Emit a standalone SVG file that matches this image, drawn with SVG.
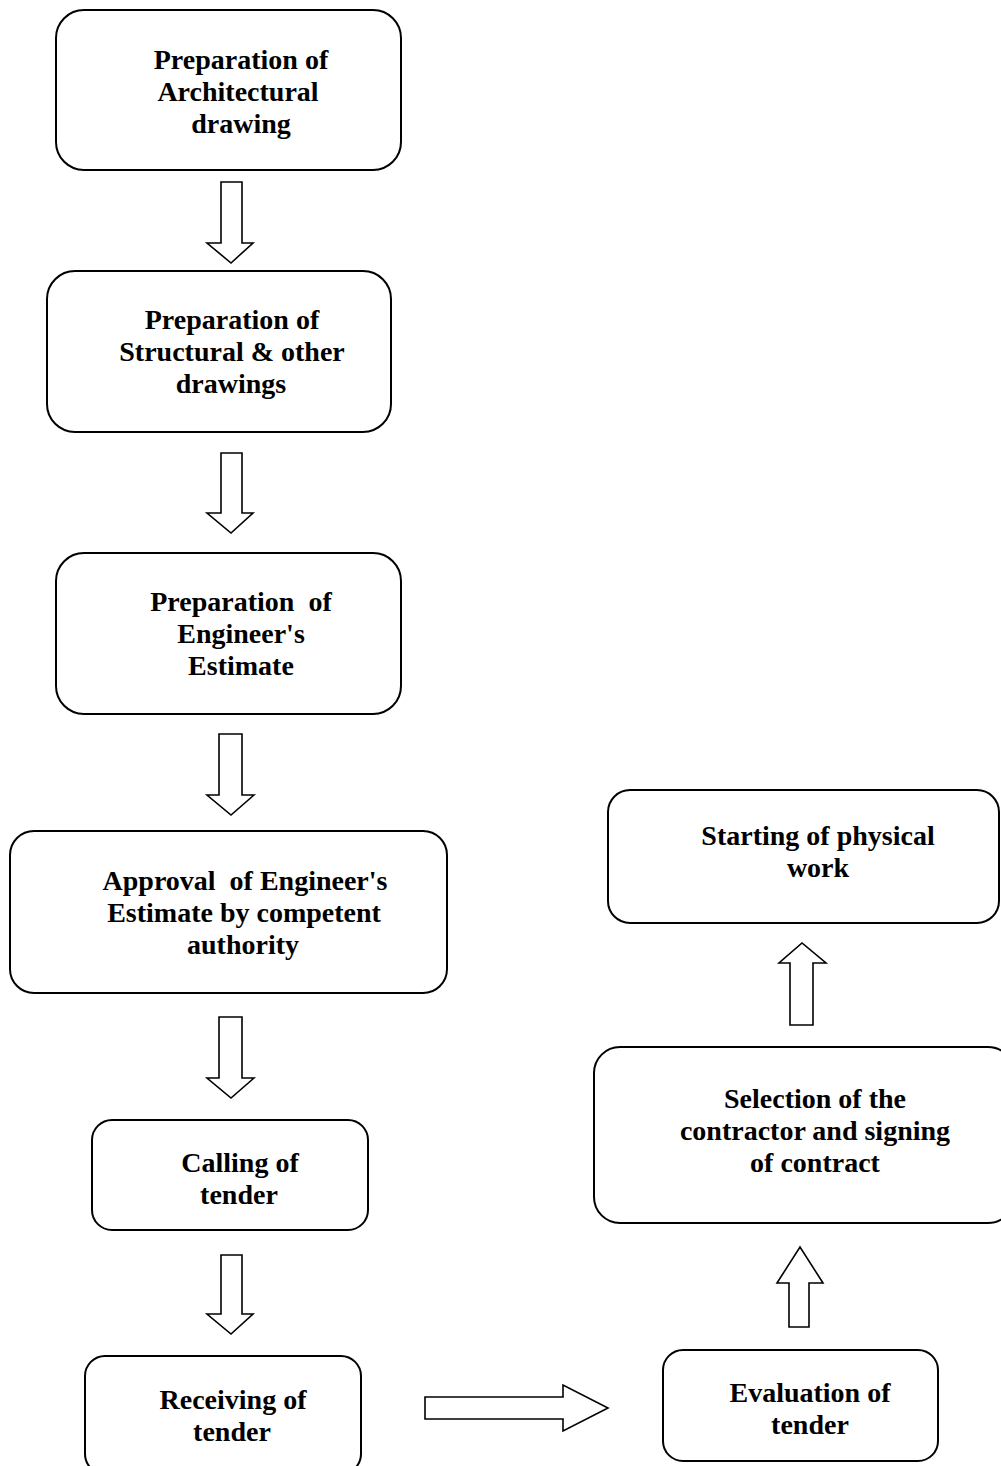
<svg xmlns="http://www.w3.org/2000/svg" width="1001" height="1466" viewBox="0 0 1001 1466">
<style>
.box{fill:#fff;stroke:#000;stroke-width:2}
.arr{fill:#fff;stroke:#000;stroke-width:1.6;stroke-linejoin:miter}
text{font-family:"Liberation Serif","Times New Roman",serif;font-weight:bold;font-size:28px;fill:#000;text-anchor:middle}
</style>
<rect width="1001" height="1466" fill="#fff"/>
<g id="connectors">
<polygon class="arr" points="221,182 242,182 242,243 253,243 231,263 207,243 221,243"/>
<polygon class="arr" points="221,453 242,453 242,513 253,513 231,533 207,513 221,513"/>
<polygon class="arr" points="219,734 242,734 242,795 254,795 231,815 207,795 219,795"/>
<polygon class="arr" points="219,1017 242,1017 242,1078 254,1078 231,1098 207,1078 219,1078"/>
<polygon class="arr" points="221,1255 242,1255 242,1314 253,1314 231,1334 207,1314 221,1314"/>
<polygon class="arr" points="425,1397 563,1397 563,1385 608,1408 563,1431 563,1419 425,1419"/>
<polygon class="arr" points="789,1327 809,1327 809,1283 823,1283 800,1247 777,1283 789,1283"/>
<polygon class="arr" points="790,1025 813,1025 813,963 826,963 802,943 779,963 790,963"/>
</g>
<g id="n1"><rect class="box" x="56" y="10" width="345" height="160" rx="28"/>
<text x="241" y="69">Preparation of</text><text x="238" y="101">Architectural</text><text x="241" y="133">drawing</text></g>
<g id="n2"><rect class="box" x="47" y="271" width="344" height="161" rx="28"/>
<text x="232" y="329">Preparation of</text><text x="232" y="361">Structural &amp; other</text><text x="231" y="393">drawings</text></g>
<g id="n3"><rect class="box" x="56" y="553" width="345" height="161" rx="28"/>
<text x="241" y="611" xml:space="preserve">Preparation  of</text><text x="241" y="643">Engineer's</text><text x="241" y="675">Estimate</text></g>
<g id="n4"><rect class="box" x="10" y="831" width="437" height="162" rx="24"/>
<text x="245" y="890" xml:space="preserve">Approval  of Engineer's</text><text x="244" y="922">Estimate by competent</text><text x="243" y="954">authority</text></g>
<g id="n5"><rect class="box" x="92" y="1120" width="276" height="110" rx="20"/>
<text x="240" y="1172">Calling of</text><text x="239" y="1204">tender</text></g>
<g id="n6"><rect class="box" x="85" y="1356" width="276" height="118" rx="20"/>
<text x="233" y="1409">Receiving of</text><text x="232" y="1441">tender</text></g>
<g id="n7"><rect class="box" x="663" y="1350" width="275" height="111" rx="20"/>
<text x="810" y="1402">Evaluation of</text><text x="810" y="1434">tender</text></g>
<g id="n8"><rect class="box" x="594" y="1047" width="420" height="176" rx="26"/>
<text x="815" y="1108">Selection of the</text><text x="815" y="1140">contractor and signing</text><text x="815" y="1172">of contract</text></g>
<g id="n9"><rect class="box" x="608" y="790" width="391" height="133" rx="22"/>
<text x="818" y="845">Starting of physical</text><text x="818" y="877">work</text></g>
</svg>
